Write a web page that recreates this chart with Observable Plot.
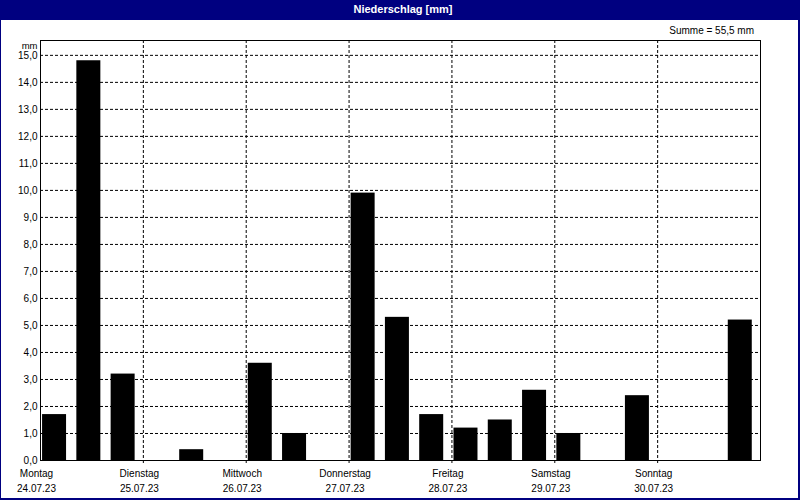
<!DOCTYPE html>
<html>
<head>
<meta charset="utf-8">
<script src="https://cdn.jsdelivr.net/npm/d3@7"></script>
<script src="https://cdn.jsdelivr.net/npm/@observablehq/plot@0.6"></script>
<style>
  html, body { margin: 0; padding: 0; background: #000080; }
  #win { position: relative; width: 800px; height: 500px; background: #000080; overflow: hidden; font-family: "Liberation Sans", Arial, sans-serif; }
  #title { position: absolute; left: 0; top: 0; width: 800px; height: 20px; line-height: 19px; text-align: center; color: #fff; font-weight: bold; font-size: 11px; padding-left: 6px; box-sizing: border-box; }
  #pane { position: absolute; left: 1px; top: 20px; width: 797px; height: 478px; background: #fff; }
  #summe { position: absolute; right: 46px; top: 25px; font-size: 10px; color: #000; }
  #chart { position: absolute; left: 0; top: 0; }
</style>
</head>
<body>
<div id="win">
  <div id="title">Niederschlag [mm]</div>
  <div id="pane"></div>
  <div id="summe">Summe = 55,5 mm</div>
  <div id="chart"></div>
</div>
<script>
// Data
const weekdays = ["Montag", "Dienstag", "Mittwoch", "Donnerstag", "Freitag", "Samstag", "Sonntag"];
const dateLabels = ["24.07.23", "25.07.23", "26.07.23", "27.07.23", "28.07.23", "29.07.23", "30.07.23"];
// precipitation per 8-hour interval (3 per day), mm
const precipitation = [
  1.7, 14.8, 3.2,
  0, 0.4, 0,
  3.6, 1.0, 0,
  9.9, 5.3, 1.7,
  1.2, 1.5, 2.6,
  1.0, 0, 2.4,
  0, 0, 5.2
];
const yTicks = [0, 1, 2, 3, 4, 5, 6, 7, 8, 9, 10, 11, 12, 13, 14, 15];
const startDate = Date.UTC(2023, 6, 24);
const endDate = Date.UTC(2023, 6, 31);

const HOUR = 3600 * 1000;
const dayStarts = weekdays.map((_, i) => new Date(startDate + i * 24 * HOUR));
const bars = precipitation.map((v, i) => {
  const s = startDate + i * 8 * HOUR;
  return { x1: new Date(s + 0.06 * 8 * HOUR), x2: new Date(s + 0.76 * 8 * HOUR), v };
}).filter(d => d.v > 0);

const fmt = d => d.toFixed(1).replace(".", ",");

const chart = Plot.plot({
  width: 800,
  height: 500,
  marginLeft: 40,
  marginRight: 40,
  marginTop: 40,
  marginBottom: 40,
  style: { background: "transparent", fontFamily: "Liberation Sans, Arial, sans-serif", fontSize: "10px", color: "#000" },
  x: { type: "utc", domain: [new Date(startDate), new Date(endDate)] },
  y: { domain: [0, 15.55] },
  marks: [
    Plot.gridY(yTicks.filter(d => d > 0), { stroke: "#000", strokeOpacity: 1, strokeDasharray: "3,2" }),
    Plot.gridX(dayStarts.slice(1), { stroke: "#000", strokeOpacity: 1, strokeDasharray: "3,2" }),
    Plot.rectY(bars, { x1: "x1", x2: "x2", y1: 0, y2: "v", fill: "#000" }),
    Plot.frame({ stroke: "#000" }),
    Plot.axisY({ ticks: yTicks, tickFormat: fmt, tickSize: 0, tickPadding: 3, label: null }),
    Plot.text(["mm"], { frameAnchor: "top-left", lineAnchor: "middle", dx: -3, dy: 5, textAnchor: "end", fill: "#000", fontSize: 9.5 }),
    Plot.axisX({ ticks: dayStarts.slice(1), tickSize: 3, tickFormat: () => "", label: null }),
    Plot.text(dayStarts, {
      x: d => d,
      frameAnchor: "bottom",
      text: (d, i) => weekdays[i] + "\n" + dateLabels[i],
      lineAnchor: "top",
      lineHeight: 1.5,
      dy: 6,
      dx: -4,
      fill: "#000"
    })
  ]
});
document.getElementById("chart").appendChild(chart);
</script>
</body>
</html>
